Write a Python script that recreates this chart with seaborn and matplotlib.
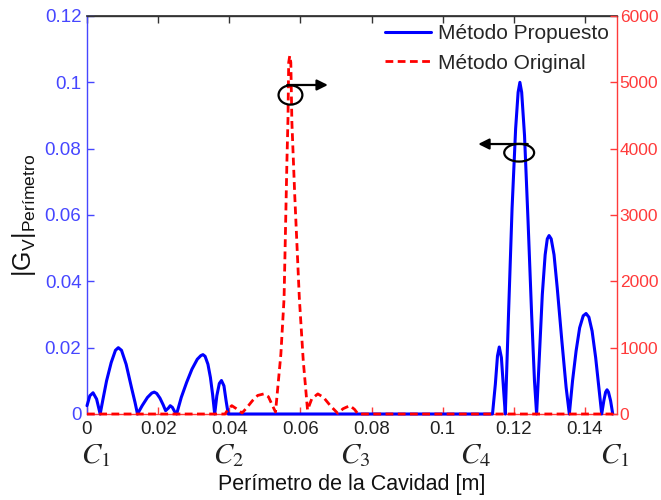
import matplotlib
matplotlib.use("Agg")
import matplotlib.pyplot as plt
import seaborn as sns
import pandas as pd
from matplotlib.patches import Ellipse

# ---------------- data ----------------
x_prop = [0.0, 0.0008, 0.0017, 0.0027, 0.0037,
          0.0045, 0.0055, 0.0068, 0.0080, 0.0088, 0.0097, 0.0110, 0.0125, 0.0135, 0.0142,
          0.0155, 0.0170, 0.0182, 0.0189, 0.0196, 0.0205, 0.0214, 0.0221,
          0.0229, 0.0234, 0.0240, 0.0246, 0.0252,
          0.0265, 0.0280, 0.0295, 0.0310, 0.0320, 0.0326, 0.0332, 0.0340, 0.0347, 0.0353, 0.0359,
          0.0365, 0.0372, 0.0378, 0.0385, 0.0391, 0.0397,
          0.1140,
          0.1148, 0.1154, 0.1159, 0.1165, 0.1172, 0.1176,
          0.1185, 0.1195, 0.1205, 0.1212, 0.1217, 0.1222, 0.1230, 0.1240, 0.1250, 0.1258, 0.1264,
          0.1272, 0.1280, 0.1288, 0.1294, 0.1299, 0.1305, 0.1313, 0.1322, 0.1335, 0.1347, 0.1356,
          0.1365, 0.1375, 0.1385, 0.1395, 0.1403, 0.1411, 0.1420, 0.1430, 0.1440, 0.1447,
          0.1453, 0.1458, 0.1462, 0.1466, 0.1472, 0.1478]
y_prop = [0.0025, 0.0055, 0.0064, 0.0045, 0.0,
          0.0045, 0.0100, 0.0155, 0.0192, 0.0200, 0.0192, 0.0150, 0.0080, 0.0035, 0.0,
          0.0025, 0.0050, 0.0063, 0.0066, 0.0062, 0.0048, 0.0028, 0.0010,
          0.0018, 0.0025, 0.0020, 0.0008, 0.0,
          0.0050, 0.0095, 0.0135, 0.0165, 0.0176, 0.0179, 0.0174, 0.0150, 0.0110, 0.0060, 0.0,
          0.0055, 0.0092, 0.0101, 0.0085, 0.0040, 0.0,
          0.0,
          0.0090, 0.0175, 0.0202, 0.0170, 0.0060, 0.0,
          0.0300, 0.0620, 0.0860, 0.0970, 0.1000, 0.0970, 0.0840, 0.0580, 0.0300, 0.0100, 0.0,
          0.0180, 0.0360, 0.0480, 0.0528, 0.0538, 0.0528, 0.0480, 0.0380, 0.0220, 0.0080, 0.0,
          0.0100, 0.0190, 0.0260, 0.0296, 0.0303, 0.0292, 0.0250, 0.0170, 0.0070, 0.0,
          0.0040, 0.0066, 0.0073, 0.0066, 0.0040, 0.0]

x_orig = [0.0, 0.0388, 0.0398, 0.0407, 0.0420, 0.0436, 0.0450, 0.0465, 0.0480, 0.0497,
          0.0510, 0.0522, 0.0530, 0.0545, 0.0554, 0.0562, 0.0565, 0.0567, 0.0570, 0.0573,
          0.0576, 0.0584, 0.0597, 0.0608, 0.0620, 0.0632, 0.0649, 0.0665, 0.0685, 0.0705,
          0.0720, 0.0739, 0.0752, 0.0762, 0.1480]
y_orig = [0, 0, 80, 126, 80, 15, 100, 200, 280, 303,
          260, 120, 30, 900, 1742, 3800, 4450, 5300, 5400, 5300,
          4400, 3300, 1742, 800, 60, 230, 303, 250, 120, 10,
          80, 126, 70, 0, 0]

x_ticks = [0, 0.02, 0.04, 0.06, 0.08, 0.1, 0.12, 0.14]
x_tick_labels = ["0", "0.02", "0.04", "0.06", "0.08", "0.1", "0.12", "0.14"]
yl_ticks = [0, 0.02, 0.04, 0.06, 0.08, 0.1, 0.12]
yl_tick_labels = ["0", "0.02", "0.04", "0.06", "0.08", "0.1", "0.12"]
yr_ticks = [0, 1000, 2000, 3000, 4000, 5000, 6000]
yr_tick_labels = ["0", "1000", "2000", "3000", "4000", "5000", "6000"]
node_labels = [r"$C_1$", r"$C_2$", r"$C_3$", r"$C_4$", r"$C_1$"]
node_pos = [0.0025, 0.0398, 0.0754, 0.1092, 0.1483]

# ---------------- style ----------------
sns.set_theme(style="white")
plt.rcParams["font.family"] = ["Liberation Sans", "DejaVu Sans"]
plt.rcParams["mathtext.fontset"] = "custom"
plt.rcParams["mathtext.rm"] = "Liberation Sans"
plt.rcParams["mathtext.it"] = "Liberation Sans:italic"
plt.rcParams["mathtext.bf"] = "Liberation Sans:bold"

BLUE = "#0000ff"
LBLUE = "#4646ff"
RED = "#ff0000"
LRED = "#ff3a3a"

fig = plt.figure(figsize=(6.61, 5.00), dpi=100)
ax = fig.add_axes([87 / 661, 1 - 414 / 500, 530 / 661, 398 / 500])
ax2 = ax.twinx()

df_p = pd.DataFrame({"x": x_prop, "y": y_prop})
df_o = pd.DataFrame({"x": x_orig, "y": y_orig})

sns.lineplot(data=df_p, x="x", y="y", ax=ax, color=BLUE, lw=2.2, sort=False,
             estimator=None, clip_on=False, zorder=3)
sns.lineplot(data=df_o, x="x", y="y", ax=ax2, color=RED, lw=2.0, sort=False,
             estimator=None, clip_on=False, zorder=3)
lp = ax.get_lines()[0]
lo = ax2.get_lines()[0]
lo.set_dashes((2.8, 1.6))

ax.set_xlim(0, 0.149)
ax.set_ylim(0, 0.12)
ax2.set_ylim(0, 6000)

ax.set_xticks(x_ticks)
ax.set_xticklabels(x_tick_labels, fontsize=13.5, color="#222222")
ax.set_yticks(yl_ticks)
ax.set_yticklabels(yl_tick_labels, fontsize=13.5, color=LBLUE)
ax2.set_yticks(yr_ticks)
ax2.set_yticklabels(yr_tick_labels, fontsize=12.5, color=LRED)

ax.tick_params(axis="x", direction="in", length=5, width=1, colors=LRED,
               labelcolor="#222222", top=False, bottom=True, pad=5)
ax.tick_params(axis="y", direction="in", length=5, width=1, colors=LBLUE,
               labelcolor=LBLUE, pad=4)
ax2.tick_params(axis="y", direction="in", length=5, width=1, colors=LRED,
                labelcolor=LRED, pad=2)
# top ticks (black)
sec = ax.secondary_xaxis("top")
sec.set_xticks(x_ticks)
sec.set_xticklabels([])
sec.tick_params(direction="in", length=5, width=1, colors="#333333")
sec.spines["top"].set_color("#333333")

for s in ax2.spines.values():
    s.set_visible(False)
ax.spines["left"].set_color(LBLUE)
ax.spines["right"].set_color(LRED)
ax.spines["top"].set_color("#333333")
ax.spines["bottom"].set_color(LRED)
for s in ax.spines.values():
    s.set_linewidth(1.0)

ax.set_xlabel("Perímetro de la Cavidad [m]", fontsize=15.5, color="#111111")
ax.xaxis.set_label_coords(0.5, -0.152)
ax.set_ylabel(r"$|\mathrm{G}_{\mathrm{V}}|_{\mathrm{Perímetro}}$", fontsize=18, color="#111111")
ax.yaxis.set_label_coords(-0.092, 0.5)
ax2.set_ylabel("")

for lab, xp in zip(node_labels, node_pos):
    ax.text(xp, -0.104, lab, transform=ax.get_xaxis_transform(), ha="center",
            va="center", fontsize=21, math_fontfamily="stix", color="#222222")

# annotations
ax2.add_patch(Ellipse((0.0572, 4809), 0.0067, 290, fill=False, ec="black", lw=1.6, zorder=5))
ax2.annotate("", xy=(0.0685, 4960), xytext=(0.0555, 4960),
             arrowprops=dict(arrowstyle="-|>", color="black", lw=1.6, mutation_scale=16))
ax2.add_patch(Ellipse((0.1215, 3939), 0.0084, 267, fill=False, ec="black", lw=1.6, zorder=5))
ax2.annotate("", xy=(0.1092, 4070), xytext=(0.1247, 4070),
             arrowprops=dict(arrowstyle="-|>", color="black", lw=1.6, mutation_scale=16))

ax.legend([lp, lo], ["Método Propuesto", "Método Original"], loc="upper right",
          frameon=False, fontsize=15, handlelength=2.2, handletextpad=0.35,
          labelspacing=0.5, borderaxespad=0.2, borderpad=0.2)
ax2.set_zorder(ax.get_zorder() + 1)
ax2.patch.set_visible(False)
leg = ax.get_legend()
leg.remove()
ax2.add_artist(leg)

fig.savefig("out.png", dpi=100)
